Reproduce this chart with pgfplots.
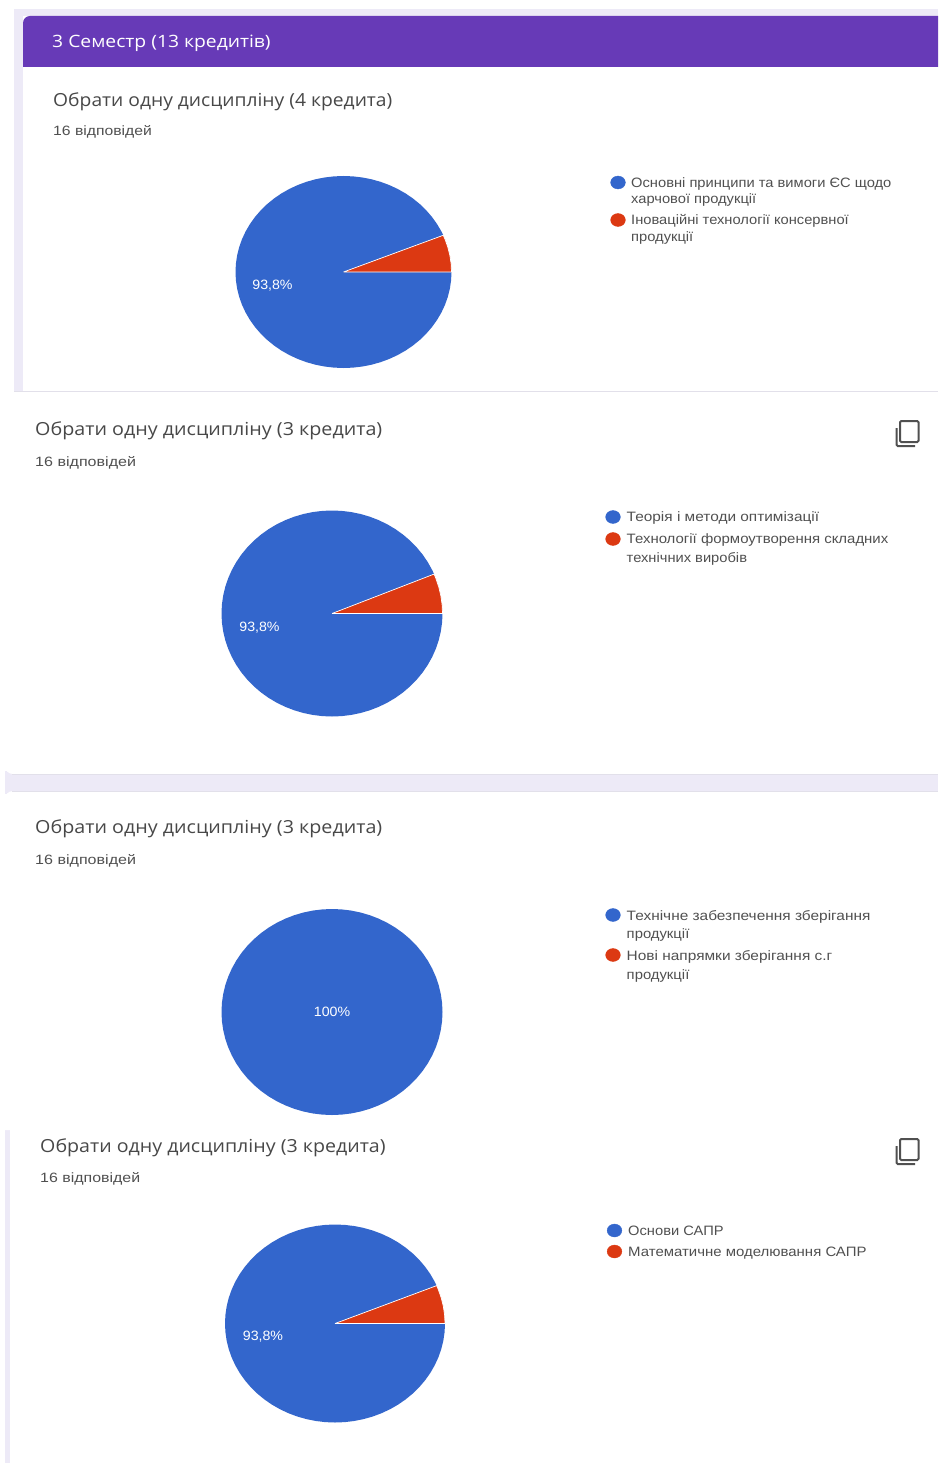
\documentclass[border=0pt]{standalone}
\usepackage{pgfplots}
\pgfplotsset{compat=1.18}
\usepackage{pgfplotstable}
\usepackage{fontspec}
\setmainfont{Liberation Sans}
\newfontfamily\titlefont{Open Sans}
\definecolor{lav}{HTML}{EDEAF7}
\definecolor{purp}{HTML}{673AB7}
\definecolor{pblue}{HTML}{3366CC}
\definecolor{pred}{HTML}{DC3912}
\definecolor{ttl}{HTML}{484848}
\definecolor{leg}{HTML}{505050}
\definecolor{edge}{HTML}{E2E0EA}
\pgfplotstableread{
x y
0 0
.9239 .3827
.9063 .4226
.8660 .5
.8192 .5736
.7660 .6428
.7071 .7071
.6428 .7660
.5736 .8192
.5 .8660
.4226 .9063
.3420 .9397
.2588 .9659
.1736 .9848
.0872 .9962
0 1
-.0872 .9962
-.1736 .9848
-.2588 .9659
-.3420 .9397
-.4226 .9063
-.5 .8660
-.5736 .8192
-.6428 .7660
-.7071 .7071
-.7660 .6428
-.8192 .5736
-.8660 .5
-.9063 .4226
-.9397 .3420
-.9659 .2588
-.9848 .1736
-.9962 .0872
-1 0
-.9962 -.0872
-.9848 -.1736
-.9659 -.2588
-.9397 -.3420
-.9063 -.4226
-.8660 -.5
-.8192 -.5736
-.7660 -.6428
-.7071 -.7071
-.6428 -.7660
-.5736 -.8192
-.5 -.8660
-.4226 -.9063
-.3420 -.9397
-.2588 -.9659
-.1736 -.9848
-.0872 -.9962
0 -1
.0872 -.9962
.1736 -.9848
.2588 -.9659
.3420 -.9397
.4226 -.9063
.5 -.8660
.5736 -.8192
.6428 -.7660
.7071 -.7071
.7660 -.6428
.8192 -.5736
.8660 -.5
.9063 -.4226
.9397 -.3420
.9659 -.2588
.9848 -.1736
.9962 -.0872
1 0
0 0
}\bigslice
\pgfplotstableread{
x y
0 0
1 0
.9962 .0872
.9848 .1736
.9659 .2588
.9397 .3420
.9239 .3827
0 0
}\smallslice
\pgfplotstableread{
x y
1 0
.9962 .0872
.9848 .1736
.9659 .2588
.9397 .3420
.9063 .4226
.8660 .5
.8192 .5736
.7660 .6428
.7071 .7071
.6428 .7660
.5736 .8192
.5 .8660
.4226 .9063
.3420 .9397
.2588 .9659
.1736 .9848
.0872 .9962
0 1
-.0872 .9962
-.1736 .9848
-.2588 .9659
-.3420 .9397
-.4226 .9063
-.5 .8660
-.5736 .8192
-.6428 .7660
-.7071 .7071
-.7660 .6428
-.8192 .5736
-.8660 .5
-.9063 .4226
-.9397 .3420
-.9659 .2588
-.9848 .1736
-.9962 .0872
-1 0
-.9962 -.0872
-.9848 -.1736
-.9659 -.2588
-.9397 -.3420
-.9063 -.4226
-.8660 -.5
-.8192 -.5736
-.7660 -.6428
-.7071 -.7071
-.6428 -.7660
-.5736 -.8192
-.5 -.8660
-.4226 -.9063
-.3420 -.9397
-.2588 -.9659
-.1736 -.9848
-.0872 -.9962
0 -1
.0872 -.9962
.1736 -.9848
.2588 -.9659
.3420 -.9397
.4226 -.9063
.5 -.8660
.5736 -.8192
.6428 -.7660
.7071 -.7071
.7660 -.6428
.8192 -.5736
.8660 -.5
.9063 -.4226
.9397 -.3420
.9659 -.2588
.9848 -.1736
.9962 -.0872
1 0
}\wholepie
\newcommand{\piechart}[4]{%
  \addplot[fill=pblue,draw=none] table[x expr={#1+#3*\thisrow{x}},y expr={#2-#4*\thisrow{y}}] {\bigslice};
  \addplot[fill=pred,draw=white,line width=0.7pt] table[x expr={#1+#3*\thisrow{x}},y expr={#2-#4*\thisrow{y}}] {\smallslice};
}
\newcommand{\qtitle}[3]{\node[anchor=base west,inner sep=0,xscale=#3,text=ttl,font=\titlefont\fontsize{18}{18}\selectfont] at (axis cs:#1) {#2};}
\newcommand{\qsub}[2][1.165]{\node[anchor=base west,inner sep=0,xscale=#1,text=leg,font=\fontsize{13.5}{13.5}\selectfont] at (axis cs:#2) {16 відповідей};}
\newcommand{\legtxt}[3][1.08]{\node[anchor=base west,inner sep=0,xscale=#1,text=leg,font=\fontsize{13.6}{13.6}\selectfont] at (axis cs:#2) {#3};}
\newcommand{\pct}[2]{\node[text=white,inner sep=0,xscale=1.05,font=\fontsize{13.5}{13.5}\selectfont] at (axis cs:#1) {#2};}
\newcommand{\legdots}[4]{%
  \addplot[only marks,color=pblue,mark=*,mark size=6.8pt,mark options={fill=pblue,draw=pblue,xscale=1.08,yscale=.95}] coordinates {(#1,#2)};
  \addplot[only marks,color=pred,mark=*,mark size=6.8pt,mark options={fill=pred,draw=pred,xscale=1.08,yscale=.95}] coordinates {(#3,#4)};
}
\begin{document}
\begin{tikzpicture}
\begin{axis}[
  hide axis,scale only axis,clip=false,
  width=938pt,height=1463pt,
  xmin=0,xmax=938,ymin=0,ymax=1463,y dir=reverse]
% page
\fill[white] (axis cs:0,0) rectangle (axis cs:938,1463);
\fill[lav] (axis cs:14,9) rectangle (axis cs:938,391);
\fill[white] (axis cs:938,16) -- (axis cs:23,16) -- (axis cs:23,391) -- (axis cs:938,391) -- cycle;
\fill[purp] (axis cs:938,16) [rounded corners=7pt] -- (axis cs:23,16) [sharp corners] -- (axis cs:23,67) -- (axis cs:938,67) -- cycle;
% lavender strips
\fill[lav] (axis cs:5,771) rectangle (axis cs:938,794);
\fill[lav] (axis cs:5,1130) rectangle (axis cs:10,1463);
% cards
\fill[white] (axis cs:938,392) [rounded corners=8pt] -- (axis cs:5,392) -- (axis cs:5,774) [sharp corners] -- (axis cs:938,774) -- cycle;
\fill[white] (axis cs:938,791) [rounded corners=8pt] -- (axis cs:5,791) [sharp corners] -- (axis cs:5,1130) -- (axis cs:938,1130) -- cycle;
\draw[edge,line width=.8pt] (axis cs:14,391.5) -- (axis cs:938,391.5);
\draw[edge,line width=.8pt] (axis cs:12,774) -- (axis cs:938,774);
\draw[edge,line width=.8pt] (axis cs:12,791) -- (axis cs:938,791);
% header
\node[anchor=base west,inner sep=0,xscale=1.135,text=white,font=\titlefont\fontsize{17}{17}\selectfont] at (axis cs:52,47.5) {3 Семестр (13 кредитів)};
% titles
\qtitle{53,107}{Обрати одну дисципліну (4 кредита)}{1.07}
\qsub{53,135.5}
\qtitle{35,435}{Обрати одну дисципліну (3 кредита)}{1.095}
\qsub[1.19]{35,466}
\qtitle{35,833.5}{Обрати одну дисципліну (3 кредита)}{1.095}
\qsub[1.19]{35,864}
\qtitle{40,1152.5}{Обрати одну дисципліну (3 кредита)}{1.09}
\qsub[1.18]{40,1182}
% pies
\piechart{343.5}{272}{108}{96}
\piechart{332}{613.5}{110.5}{103}
\addplot[fill=pblue,draw=none] table[x expr={332+110.5*\thisrow{x}},y expr={1012-103*\thisrow{y}}] {\wholepie};
\piechart{335}{1323.5}{110}{99}
\pct{272.5,285.5}{93,8\%}
\pct{259.5,627.5}{93,8\%}
\pct{332,1012}{100\%}
\pct{263,1337}{93,8\%}
% legends
\legdots{618}{182.5}{618}{220}
\legtxt{631,187.5}{Основні принципи та вимоги ЄС щодо}
\legtxt{631,204}{харчової продукції}
\legtxt{631,224.5}{Іноваційні технології консервної}
\legtxt{631,241}{продукції}
\legdots{613}{517}{613}{539}
\legtxt[1.133]{626.5,521}{Теорія і методи оптимізації}
\legtxt[1.10]{626.5,543}{Технології формоутворення складних}
\legtxt{626.5,562}{технічних виробів}
\legdots{613}{915}{613}{955}
\legtxt[1.135]{626.5,920}{Технічне забезпечення зберігання}
\legtxt[1.09]{626.5,938}{продукції}
\legtxt[1.135]{626.5,960}{Нові напрямки зберігання с.г}
\legtxt[1.09]{626.5,979}{продукції}
\legdots{614.5}{1230.5}{614.5}{1251.5}
\legtxt{628,1235}{Основи САПР}
\legtxt[1.10]{628,1256}{Математичне моделювання САПР}
% copy icons
\draw[color=leg,line width=2pt,rounded corners=1.2pt] (axis cs:900,421) rectangle (axis cs:918.5,442);
\draw[color=leg,line width=2pt,rounded corners=1.2pt] (axis cs:896.5,428) -- (axis cs:896.5,446) -- (axis cs:915,446);
\draw[color=leg,line width=2pt,rounded corners=1.2pt] (axis cs:900,1139) rectangle (axis cs:918.5,1160);
\draw[color=leg,line width=2pt,rounded corners=1.2pt] (axis cs:896.5,1146) -- (axis cs:896.5,1164) -- (axis cs:915,1164);
\end{axis}
\end{tikzpicture}
\end{document}
